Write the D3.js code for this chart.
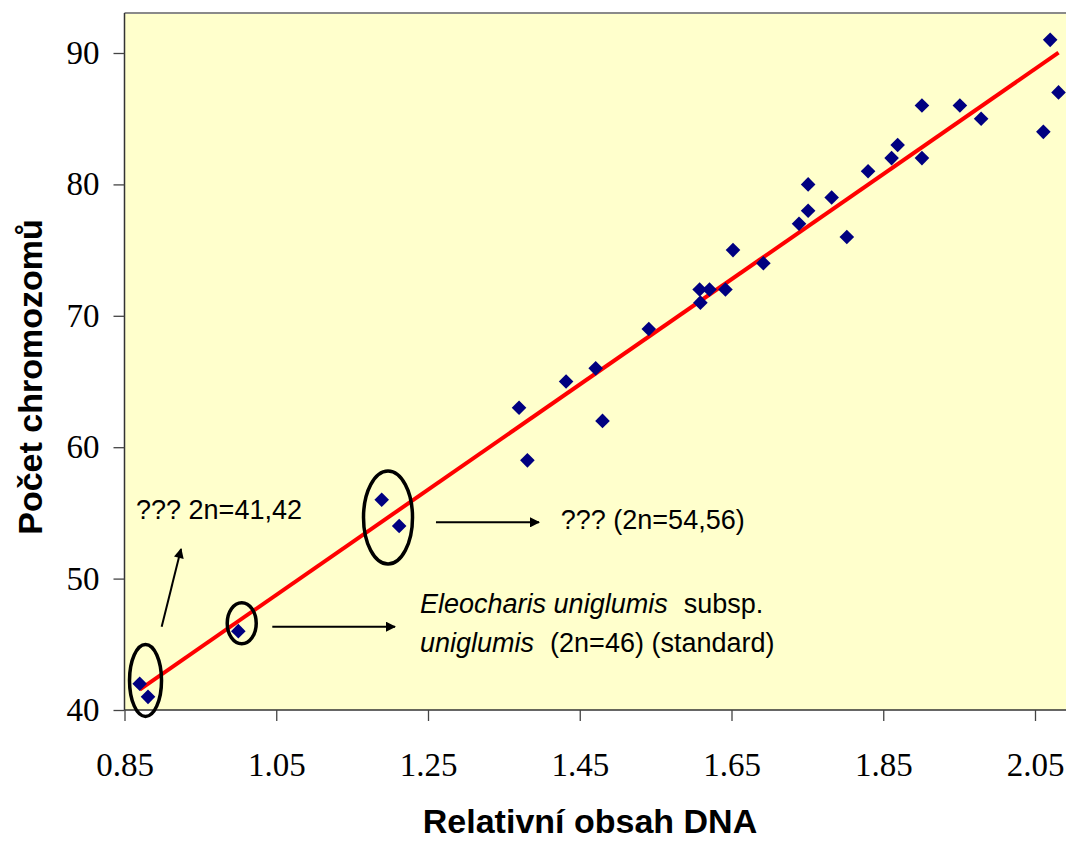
<!DOCTYPE html>
<html>
<head>
<meta charset="utf-8">
<script src="https://d3js.org/d3.v7.min.js"></script>
<style>
  body { margin: 0; background: #fff; }
  svg { display: block; }
</style>
</head>
<body>
<svg width="1066" height="841"></svg>
<script>
// relative DNA content vs. chromosome count
var dna = [0.870, 0.881, 1.000, 1.189, 1.212, 1.370, 1.381, 1.432, 1.471, 1.480, 1.541,
           1.608, 1.609, 1.621, 1.642, 1.652, 1.692, 1.739, 1.751, 1.751, 1.782, 1.802,
           1.830, 1.861, 1.869, 1.901, 1.901, 1.951, 1.979, 2.061, 2.070, 2.081];
var chrom = [42, 41, 46, 56, 54, 63, 59, 65, 66, 62, 69,
             72, 71, 72, 72, 75, 74, 77, 78, 80, 79, 76,
             81, 82, 83, 86, 82, 86, 85, 84, 91, 87];
var xTicks = [0.85, 1.05, 1.25, 1.45, 1.65, 1.85, 2.05];
var yTicks = [40, 50, 60, 70, 80, 90];

// circled groups and arrows (data units)
var ellipses = [
  {x: 0.8777, y: 42.25, rx: 16, ry: 36},
  {x: 1.0045, y: 46.6, rx: 14.5, ry: 20.5},
  {x: 1.1973, y: 54.65, rx: 24.5, ry: 46.5}
];
var arrows = [
  {x1: 0.899, y1: 46.34, x2: 0.9245, y2: 52.25},
  {x1: 1.0448, y1: 46.34, x2: 1.2065, y2: 46.34},
  {x1: 1.2605, y1: 54.28, x2: 1.3963, y2: 54.28}
];

var svg = d3.select('svg');
var x = d3.scaleLinear().domain([0.85, 2.05]).range([124.5, 1035]);
var y = d3.scaleLinear().domain([40, 90]).range([710, 53]);

// plot area
svg.append('rect')
  .attr('x', 124.5).attr('y', 13)
  .attr('width', 1066 - 124.5 + 10).attr('height', 710 - 13)
  .attr('fill', '#FFFFCC');
svg.append('line')
  .attr('x1', 124.5).attr('x2', 1076).attr('y1', 13).attr('y2', 13)
  .attr('stroke', '#8a8a8a').attr('stroke-width', 2);

// axes
var yAxis = svg.append('g')
  .attr('transform', 'translate(124.5,0)')
  .call(d3.axisLeft(y).tickValues(yTicks).tickSize(11).tickPadding(14).tickFormat(d3.format('d')));
yAxis.select('.domain').attr('d', 'M0,13V710').attr('stroke', '#333').attr('stroke-width', 1.5);

var xAxis = svg.append('g')
  .attr('transform', 'translate(0,710)')
  .call(d3.axisBottom(x).tickValues(xTicks).tickSize(11).tickPadding(32).tickFormat(d3.format('.2f')));
xAxis.select('.domain').attr('d', 'M124.5,0H1076').attr('stroke', '#333').attr('stroke-width', 1.5);

svg.selectAll('.tick line').attr('stroke', '#444').attr('stroke-width', 1.3);
svg.selectAll('.tick text')
  .attr('fill', '#000')
  .style('font-family', '"Liberation Serif", "Times New Roman", serif')
  .style('font-size', '33px');

// regression line (least squares over the data)
var mx = d3.mean(dna), my = d3.mean(chrom);
var sxy = d3.sum(dna, function(d, i) { return (d - mx) * (chrom[i] - my); });
var sxx = d3.sum(dna, function(d) { return (d - mx) * (d - mx); });
var slope = sxy / sxx, icpt = my - slope * mx;
var xr = d3.extent(dna);
svg.append('line')
  .attr('x1', x(xr[0])).attr('y1', y(slope * xr[0] + icpt))
  .attr('x2', x(xr[1])).attr('y2', y(slope * xr[1] + icpt))
  .attr('stroke', '#FF0000').attr('stroke-width', 4);

// points
svg.append('g').selectAll('path')
  .data(dna).enter().append('path')
  .attr('d', 'M0,-7.3L7.3,0L0,7.3L-7.3,0Z')
  .attr('transform', function(d, i) { return 'translate(' + x(d) + ',' + y(chrom[i]) + ')'; })
  .attr('fill', '#000080');

// annotations
svg.append('defs').append('marker')
  .attr('id', 'ah').attr('viewBox', '0 0 10 10')
  .attr('refX', 9).attr('refY', 5)
  .attr('markerWidth', 6).attr('markerHeight', 5)
  .attr('markerUnits', 'strokeWidth')
  .attr('orient', 'auto')
  .append('path').attr('d', 'M0,0L10,5L0,10Z').attr('fill', '#000');

svg.append('g').selectAll('ellipse')
  .data(ellipses).enter().append('ellipse')
  .attr('cx', function(d) { return x(d.x); })
  .attr('cy', function(d) { return y(d.y); })
  .attr('rx', function(d) { return d.rx; })
  .attr('ry', function(d) { return d.ry; })
  .attr('fill', 'none').attr('stroke', '#000').attr('stroke-width', 3.5);

svg.append('g').selectAll('line')
  .data(arrows).enter().append('line')
  .attr('x1', function(d) { return x(d.x1); })
  .attr('y1', function(d) { return y(d.y1); })
  .attr('x2', function(d) { return x(d.x2); })
  .attr('y2', function(d) { return y(d.y2); })
  .attr('stroke', '#000').attr('stroke-width', 2)
  .attr('marker-end', 'url(#ah)');

var note = svg.append('g')
  .style('font-family', '"Liberation Sans", Arial, sans-serif')
  .style('font-size', '27px')
  .attr('fill', '#000');

note.append('text').attr('x', x(0.8652)).attr('y', y(54.5)).text('??? 2n=41,42');
note.append('text').attr('x', x(1.425)).attr('y', y(53.77)).text('??? (2n=54,56)');

var t3 = note.append('text').attr('x', x(1.2395)).attr('y', y(47.36));
t3.append('tspan').style('font-style', 'italic').text('Eleocharis uniglumis');
t3.append('tspan').attr('dx', 16).text('subsp.');
var t4 = note.append('text').attr('x', x(1.2395)).attr('y', y(47.36) + 38.4);
t4.append('tspan').style('font-style', 'italic').text('uniglumis');
t4.append('tspan').attr('dx', 16).text('(2n=46) (standard)');

// axis titles
svg.append('text')
  .attr('x', 590).attr('y', 833)
  .attr('text-anchor', 'middle')
  .style('font-family', '"Liberation Sans", Arial, sans-serif')
  .style('font-weight', 'bold').style('font-size', '34px')
  .text('Relativní obsah DNA');

svg.append('text')
  .attr('transform', 'translate(41.5,377) rotate(-90)')
  .attr('text-anchor', 'middle')
  .style('font-family', '"Liberation Sans", Arial, sans-serif')
  .style('font-weight', 'bold').style('font-size', '34px')
  .text('Počet chromozomů');
</script>
</body>
</html>
